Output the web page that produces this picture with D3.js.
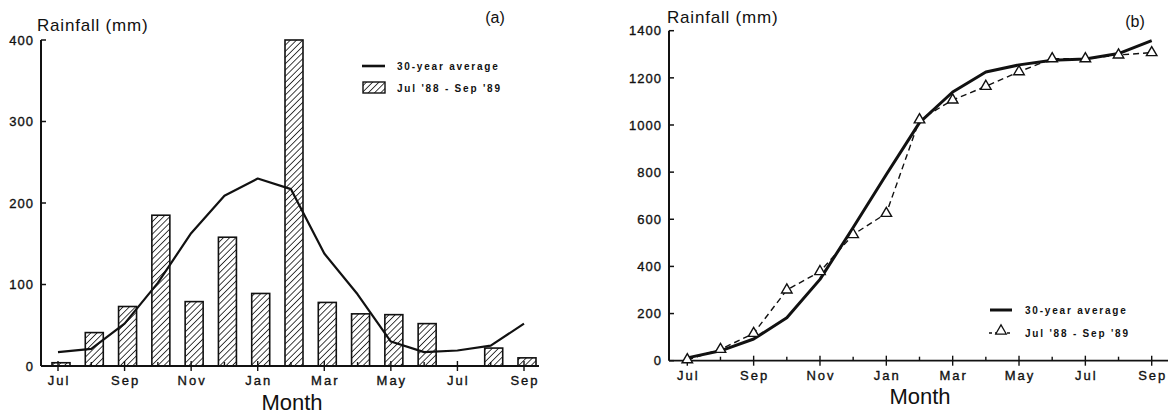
<!DOCTYPE html>
<html>
<head>
<meta charset="utf-8">
<script src="https://cdn.jsdelivr.net/npm/d3@7"></script>
<style>
  html, body { margin: 0; padding: 0; background: #fff; }
  svg { display: block; }
  text { font-family: "Liberation Sans", Arial, sans-serif; fill: #111; }
  .num { stroke: #111; stroke-width: 0.35px; }
</style>
</head>
<body>
<svg id="chart" width="1176" height="418"></svg>
<script>
// Months from July 1988 to September 1989
const months = ["Jul","Aug","Sep","Oct","Nov","Dec","Jan","Feb","Mar","Apr","May","Jun","Jul","Aug","Sep"];
// Tick labels shown on the month axis (every second month)
const labelledMonths = [0, 2, 4, 6, 8, 10, 12, 14];

// (a) monthly rainfall, mm
const monthlyAverage = [17, 21, 52, 102, 163, 209, 230, 217, 138, 88, 30, 17, 19, 25, 52];
const monthlyObserved = [4, 41, 73, 185, 79, 158, 89, 400, 78, 64, 63, 52, 0, 22, 10];

// (b) cumulative rainfall, mm
const cumulativeAverage = [12, 42, 92, 182, 345, 565, 790, 1010, 1140, 1225, 1255, 1275, 1280, 1303, 1358];
const cumulativeObserved = [4, 48, 116, 300, 378, 535, 625, 1022, 1106, 1164, 1226, 1281, 1281, 1297, 1307];

const yTicksA = [0, 100, 200, 300, 400];
const yTicksB = [0, 200, 400, 600, 800, 1000, 1200, 1400];

const legendLabels = ["30-year average", "Jul '88 - Sep '89"];

const svg = d3.select("#chart");
const ink = "#111";

// diagonal hatch for the observed bars
const defs = svg.append("defs");
const hatch = defs.append("pattern")
  .attr("id", "hatch")
  .attr("patternUnits", "userSpaceOnUse")
  .attr("width", 4.4).attr("height", 4.4)
  .attr("patternTransform", "rotate(45)");
hatch.append("rect").attr("width", 4.4).attr("height", 4.4).attr("fill", "#fff");
hatch.append("line")
  .attr("x1", 0).attr("y1", 0).attr("x2", 0).attr("y2", 4.4)
  .attr("stroke", ink).attr("stroke-width", 1.6);

// shared axis drawing
function drawAxes(g, x, y, yTicks, xRange, yLabelX) {
  const [y0, y1] = y.range();
  // y axis line
  g.append("line")
    .attr("x1", xRange[0]).attr("x2", xRange[0])
    .attr("y1", y0).attr("y2", y1)
    .attr("stroke", ink).attr("stroke-width", 2);
  // x axis line
  g.append("line")
    .attr("x1", xRange[0]).attr("x2", xRange[1])
    .attr("y1", y0).attr("y2", y0)
    .attr("stroke", ink).attr("stroke-width", 1.8);
  // y ticks, pointing inward
  g.selectAll(".ytick").data(yTicks).join("line")
    .attr("x1", xRange[0]).attr("x2", xRange[0] + 5)
    .attr("y1", d => y(d)).attr("y2", d => y(d))
    .attr("stroke", ink).attr("stroke-width", 1.5);
  g.selectAll(".ylab").data(yTicks).join("text")
    .attr("class", "num")
    .attr("x", yLabelX).attr("y", d => y(d))
    .attr("dy", "0.36em")
    .attr("text-anchor", "end")
    .attr("font-size", 13)
    .attr("letter-spacing", 1)
    .text(d => d);
  // month ticks: labelled months cross the axis, the rest point up
  g.selectAll(".xtick").data(months.map((m, i) => i)).join("line")
    .attr("x1", d => x(d)).attr("x2", d => x(d))
    .attr("y1", d => labelledMonths.includes(d) ? y0 - 5 : y0 - 4)
    .attr("y2", d => labelledMonths.includes(d) ? y0 + 5 : y0)
    .attr("stroke", ink).attr("stroke-width", 1.4);
  g.selectAll(".xlab").data(labelledMonths).join("text")
    .attr("class", "num")
    .attr("x", d => x(d) + 1).attr("y", y0 + 19)
    .attr("text-anchor", "middle")
    .attr("font-size", 13)
    .attr("letter-spacing", 2)
    .text(d => months[d]);
}

// ---------- (a) monthly rainfall ----------
const gA = svg.append("g");
const xA = d3.scaleLinear().domain([0, 14]).range([58, 524]);
const yA = d3.scaleLinear().domain([0, 400]).range([366, 40]);
const barWidth = 18, barShift = -6;

const bars = monthlyObserved
  .map((v, i) => ({ i, v }))
  .filter(d => d.v > 0);

gA.selectAll("rect.bar").data(bars).join("rect")
  .attr("class", "bar")
  .attr("x", d => xA(d.i) + barShift)
  .attr("y", d => yA(d.v))
  .attr("width", barWidth)
  .attr("height", d => yA(0) - yA(d.v))
  .attr("fill", "url(#hatch)")
  .attr("stroke", ink).attr("stroke-width", 1.6);

drawAxes(gA, xA, yA, yTicksA, [41, 539], 34);

gA.append("path")
  .datum(monthlyAverage)
  .attr("fill", "none")
  .attr("stroke", ink).attr("stroke-width", 2.2)
  .attr("stroke-linejoin", "round")
  .attr("d", d3.line().x((d, i) => xA(i)).y(d => yA(d)));

gA.append("text").attr("x", 37).attr("y", 31)
  .attr("font-size", 17).attr("letter-spacing", 0.8)
  .text("Rainfall (mm)");
gA.append("text").attr("x", 495).attr("y", 23)
  .attr("text-anchor", "middle").attr("font-size", 16)
  .text("(a)");
gA.append("text").attr("x", 292).attr("y", 410)
  .attr("text-anchor", "middle").attr("font-size", 22)
  .text("Month");

// legend (a)
gA.append("line").attr("x1", 362).attr("x2", 385).attr("y1", 66).attr("y2", 66)
  .attr("stroke", ink).attr("stroke-width", 2.6);
gA.append("rect").attr("x", 363).attr("y", 82).attr("width", 22).attr("height", 11)
  .attr("fill", "url(#hatch)").attr("stroke", ink).attr("stroke-width", 1.4);
gA.selectAll(".leg").data(legendLabels).join("text")
  .attr("x", 397).attr("y", (d, i) => 66 + i * 22).attr("dy", "0.35em")
  .attr("font-size", 10).attr("font-weight", "bold").attr("letter-spacing", 1.8)
  .text(d => d);

// ---------- (b) cumulative rainfall ----------
const gB = svg.append("g");
const xB = d3.scaleLinear().domain([0, 14]).range([687.3, 1151.7]);
const yB = d3.scaleLinear().domain([0, 1400]).range([360.7, 30.7]);

drawAxes(gB, xB, yB, yTicksB, [669, 1168], 662);

const lineB = d3.line().x((d, i) => xB(i)).y(d => yB(d));
gB.append("path").datum(cumulativeObserved)
  .attr("fill", "none").attr("stroke", ink).attr("stroke-width", 1.4)
  .attr("stroke-dasharray", "6,4")
  .attr("d", lineB);
gB.append("path").datum(cumulativeAverage)
  .attr("fill", "none").attr("stroke", ink).attr("stroke-width", 3)
  .attr("stroke-linejoin", "round")
  .attr("d", lineB);

const tri = d3.symbol().type(d3.symbolTriangle).size(48);
gB.selectAll(".tri").data(cumulativeObserved).join("path")
  .attr("transform", (d, i) => `translate(${xB(i)},${yB(d)})`)
  .attr("d", tri)
  .attr("fill", "#fff").attr("stroke", ink).attr("stroke-width", 1.4);

gB.append("text").attr("x", 667).attr("y", 23)
  .attr("font-size", 17).attr("letter-spacing", 0.8)
  .text("Rainfall (mm)");
gB.append("text").attr("x", 1135).attr("y", 27)
  .attr("text-anchor", "middle").attr("font-size", 16)
  .text("(b)");
gB.append("text").attr("x", 920).attr("y", 404)
  .attr("text-anchor", "middle").attr("font-size", 22)
  .text("Month");

// legend (b)
gB.append("line").attr("x1", 990).attr("x2", 1012).attr("y1", 310).attr("y2", 310)
  .attr("stroke", ink).attr("stroke-width", 3);
gB.append("line").attr("x1", 989).attr("x2", 1012).attr("y1", 333).attr("y2", 333)
  .attr("stroke", ink).attr("stroke-width", 1.3).attr("stroke-dasharray", "3,3");
gB.append("path").attr("transform", "translate(1001,331)").attr("d", tri)
  .attr("fill", "#fff").attr("stroke", ink).attr("stroke-width", 1.3);
gB.selectAll(".leg").data(legendLabels).join("text")
  .attr("x", 1025).attr("y", (d, i) => 310 + i * 23).attr("dy", "0.35em")
  .attr("font-size", 10).attr("font-weight", "bold").attr("letter-spacing", 1.8)
  .text(d => d);
</script>
</body>
</html>
